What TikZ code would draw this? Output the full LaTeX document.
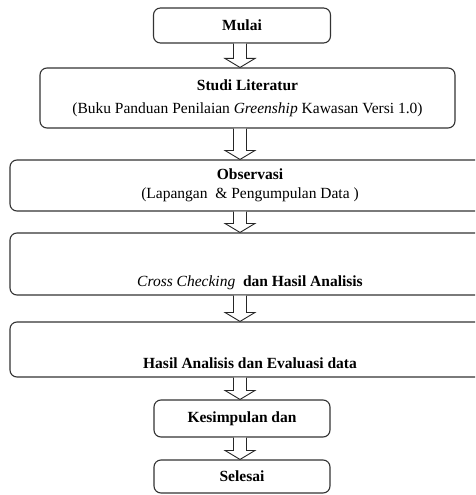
\documentclass[tikz,border=0pt]{standalone}
\usepackage{fontspec}
\setmainfont{Liberation Serif}
\usetikzlibrary{calc}

\tikzset{
  box/.style={draw=black!80, line width=1.1pt, rounded corners=7pt, inner sep=0pt,
    align=center, font=\fontsize{15.5}{18}\selectfont},
  flowarrow/.style={draw=black!85, fill=white, line width=0.9pt},
}

\begin{document}
\begin{tikzpicture}[x=1pt, y=-1pt]
  \useasboundingbox (0,0) rectangle (475,495);
  \clip (0,0) rectangle (475,495);

  \node[box, minimum width=177pt, minimum height=35pt] (mulai) at (242,25.5) {\textbf{Mulai}};
  \node[box, minimum width=415pt, minimum height=60pt] (studi) at (247.5,98)
    {\textbf{Studi Literatur}\\[5pt](Buku Panduan Penilaian \textit{Greenship} Kawasan Versi 1.0)};
  \node[box, minimum width=480pt, minimum height=51pt] (obs) at (250,185.5)
    {\textbf{Observasi}\\[1pt](Lapangan~ \& Pengumpulan Data )};
  \node[box, minimum width=480pt, text height=53pt, text depth=9pt] (cross) at (250,264)
    {\textit{Cross Checking}~ \textbf{dan Hasil Analisis}};
  \node[box, minimum width=480pt, text height=46pt, text depth=9pt] (hasil) at (250,349.5)
    {\textbf{Hasil Analisis dan Evaluasi data}};
  \node[box, minimum width=176pt, minimum height=37pt] (kes) at (242,418.5) {\textbf{Kesimpulan dan}};
  \node[box, minimum width=176pt, minimum height=33pt] (sel) at (242,476.5) {\textbf{Selesai}};

  % hollow block arrows between the steps
  \coordinate (ax) at (240,0);
  \foreach \a/\b in {mulai/studi, studi/obs, obs/cross, cross/hasil, hasil/kes, kes/sel}
    \draw[flowarrow] ($(ax |- \a.south)+(-6.5pt,0)$) -- ($(ax |- \b.north)+(-6.5pt,9pt)$)
      -- ++(-8.5pt,0) -- (ax |- \b.north) -- ($(ax |- \b.north)+(15pt,9pt)$)
      -- ++(-8.5pt,0) -- ($(ax |- \a.south)+(6.5pt,0)$);
\end{tikzpicture}
\end{document}
